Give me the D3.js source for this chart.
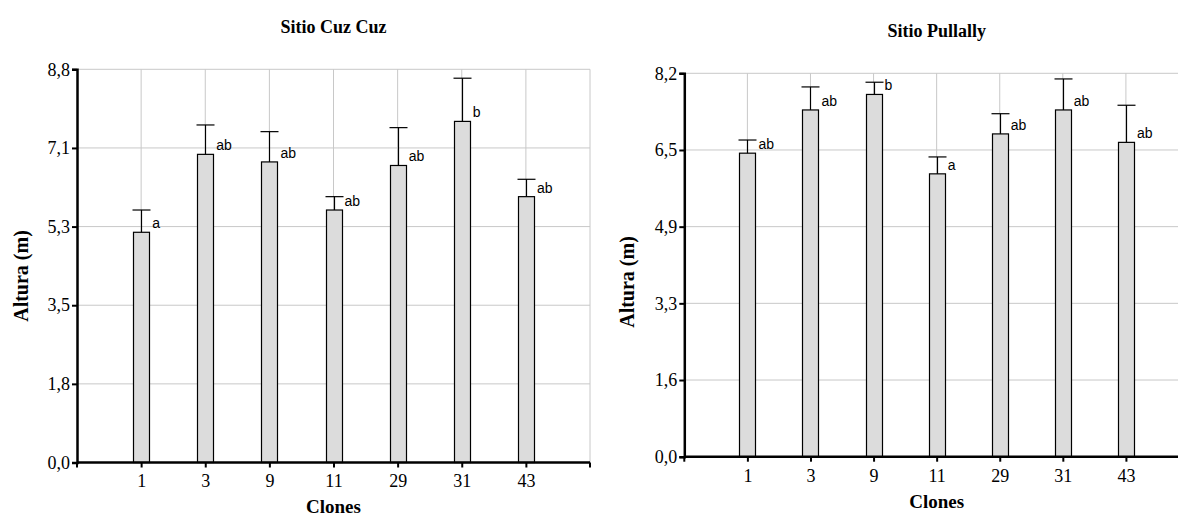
<!DOCTYPE html>
<html>
<head>
<meta charset="utf-8">
<script src="https://cdn.jsdelivr.net/npm/d3@7/dist/d3.min.js"></script>
<style>
  html, body { margin: 0; padding: 0; background: #fff; }
  svg { display: block; }
</style>
</head>
<body>
<svg id="chart" width="1178" height="516"></svg>
<script>
// Clones evaluated at both sites
const clones = ["1", "3", "9", "11", "29", "31", "43"];

// Sitio Cuz Cuz: mean height (m), error bar length (m), Tukey groups
const cuzCuzMean = [5.17, 6.92, 6.75, 5.67, 6.67, 7.66, 5.97];
const cuzCuzError = [0.50, 0.66, 0.68, 0.30, 0.85, 0.97, 0.39];
const cuzCuzGroups = ["a", "ab", "ab", "ab", "ab", "b", "ab"];
const cuzCuzMax = 8.83;
const cuzCuzTickLabels = ["0,0", "1,8", "3,5", "5,3", "7,1", "8,8"];

// Sitio Pullally
const pullallyMean = [6.46, 7.38, 7.71, 6.02, 6.87, 7.38, 6.69];
const pullallyError = [0.28, 0.49, 0.26, 0.36, 0.43, 0.66, 0.79];
const pullallyGroups = ["ab", "ab", "b", "a", "ab", "ab", "ab"];
const pullallyMax = 8.16;
const pullallyTickLabels = ["0,0", "1,6", "3,3", "4,9", "6,5", "8,2"];

const SERIF = '"Times New Roman", "Liberation Serif", serif';
const SANS = 'Arial, "Liberation Sans", sans-serif';

const svg = d3.select("#chart");

function drawPanel(opts) {
  const { left, right, top, bottom, title, titleY, mean, err, groups, yMax, tickLabels,
          xLabelY, xTitleY, yTitleX, yTitleY } = opts;

  const x = d3.scalePoint().domain(clones).range([left, right]).padding(1);
  const y = d3.scaleLinear().domain([0, yMax]).range([bottom, top]);
  const yTicks = tickLabels.map((_, i) => i * yMax / (tickLabels.length - 1));

  const g = svg.append("g");

  // horizontal grid
  g.append("g").selectAll("line").data(yTicks).join("line")
    .attr("x1", left).attr("x2", right)
    .attr("y1", d => y(d)).attr("y2", d => y(d))
    .attr("stroke", "#c8c8c8").attr("stroke-width", 1);

  // vertical grid at each clone and at the far end
  const vx = clones.map(c => x(c)).concat([right]);
  g.append("g").selectAll("line").data(vx).join("line")
    .attr("x1", d => d).attr("x2", d => d)
    .attr("y1", top).attr("y2", bottom)
    .attr("stroke", "#c8c8c8").attr("stroke-width", 1);

  // bars
  const bw = 16;
  g.append("g").selectAll("rect").data(mean).join("rect")
    .attr("x", (d, i) => Math.round(x(clones[i]) - bw / 2) + 0.5)
    .attr("y", d => y(d))
    .attr("width", bw)
    .attr("height", d => bottom - y(d))
    .attr("fill", "#dcdcdc")
    .attr("stroke", "#000")
    .attr("stroke-width", 1.2);

  // error bars (upper only)
  const eb = g.append("g").attr("stroke", "#000").attr("stroke-width", 1.2);
  mean.forEach((m, i) => {
    const cx = Math.round(x(clones[i])) + 0.5;
    eb.append("line").attr("x1", cx).attr("x2", cx)
      .attr("y1", y(m)).attr("y2", y(m + err[i]));
    eb.append("line").attr("x1", cx - 9).attr("x2", cx + 9)
      .attr("y1", y(m + err[i])).attr("y2", y(m + err[i]));
  });

  // group letters
  g.append("g").selectAll("text").data(groups).join("text")
    .attr("font-family", SANS).attr("font-size", 14).attr("fill", "#000")
    .attr("x", (d, i) => x(clones[i]) + 11)
    .attr("y", (d, i) => y(mean[i]) - 4)
    .text(d => d);

  // y axis
  const yAxis = d3.axisLeft(y).tickValues(yTicks)
    .tickFormat((d, i) => tickLabels[i]).tickSize(5).tickPadding(2);
  const ya = g.append("g").attr("transform", `translate(${left},0)`).call(yAxis)
    .attr("font-family", SERIF).attr("font-size", 18);
  ya.select(".domain").attr("stroke", "#000").attr("stroke-width", 2.5);
  ya.selectAll(".tick line").attr("stroke", "#000").attr("stroke-width", 2);
  ya.selectAll(".tick text").attr("fill", "#000");

  // x axis with end ticks
  const xAxis = d3.axisBottom(x).tickSize(5).tickPadding(6);
  const xa = g.append("g").attr("transform", `translate(0,${bottom})`).call(xAxis)
    .attr("font-family", SERIF).attr("font-size", 18);
  xa.select(".domain").attr("stroke", "#000").attr("stroke-width", 2.5)
    .attr("d", `M${left},0H${right}`);
  xa.selectAll(".tick line").attr("stroke", "#000").attr("stroke-width", 2);
  xa.selectAll(".tick text").attr("fill", "#000")
    .attr("y", xLabelY - bottom).attr("dy", null);
  xa.selectAll(".endtick").data([left, right]).join("line")
    .attr("class", "endtick")
    .attr("x1", d => d).attr("x2", d => d).attr("y1", 0).attr("y2", 5)
    .attr("stroke", "#000").attr("stroke-width", 2);

  // titles
  svg.append("text")
    .attr("font-family", SERIF).attr("font-weight", "bold").attr("font-size", 18)
    .attr("x", (left + right) / 2).attr("y", titleY)
    .attr("text-anchor", "middle")
    .text(title);
  svg.append("text")
    .attr("font-family", SERIF).attr("font-weight", "bold").attr("font-size", 19)
    .attr("x", (left + right) / 2).attr("y", xTitleY)
    .attr("text-anchor", "middle")
    .text("Clones");
  svg.append("text")
    .attr("font-family", SERIF).attr("font-weight", "bold").attr("font-size", 20)
    .attr("transform", `translate(${yTitleX},${yTitleY}) rotate(-90)`)
    .attr("text-anchor", "middle")
    .text("Altura (m)");
}

drawPanel({
  left: 77, right: 590, top: 69.3, bottom: 462.5,
  title: "Sitio Cuz Cuz", titleY: 33,
  mean: cuzCuzMean, err: cuzCuzError, groups: cuzCuzGroups,
  yMax: cuzCuzMax, tickLabels: cuzCuzTickLabels,
  xLabelY: 487, xTitleY: 513, yTitleX: 28, yTitleY: 276
});

drawPanel({
  left: 684.3, right: 1189, top: 73.3, bottom: 456.7,
  title: "Sitio Pullally", titleY: 37,
  mean: pullallyMean, err: pullallyError, groups: pullallyGroups,
  yMax: pullallyMax, tickLabels: pullallyTickLabels,
  xLabelY: 482, xTitleY: 508, yTitleX: 634, yTitleY: 282
});
</script>
</body>
</html>
